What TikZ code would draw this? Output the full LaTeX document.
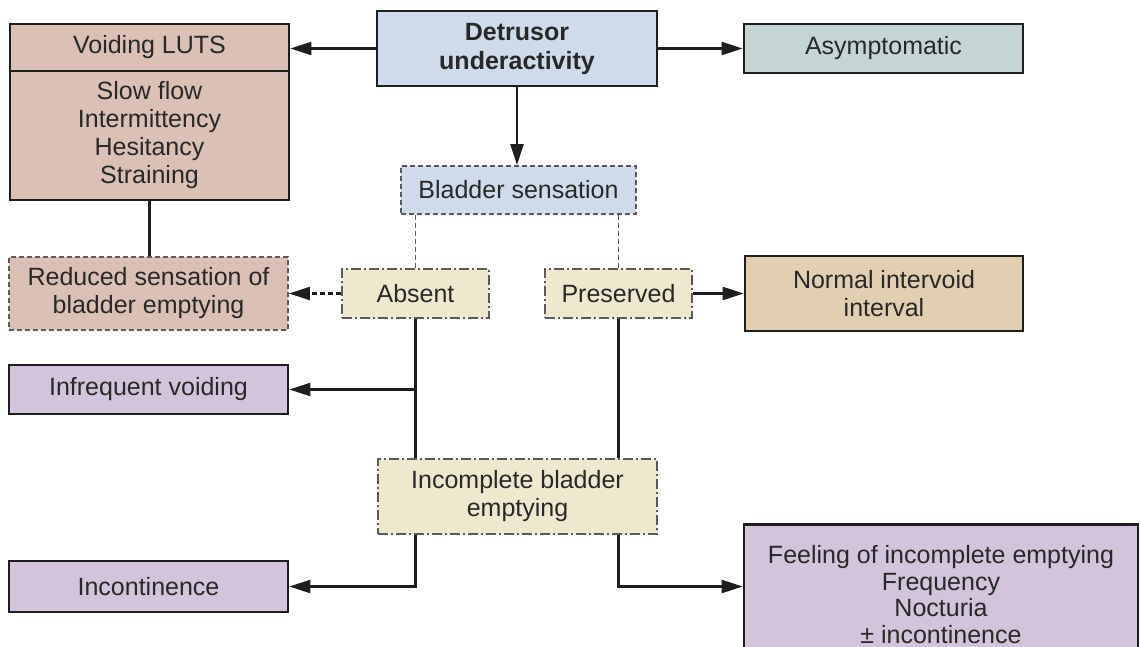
\documentclass[tikz,border=0pt]{standalone}
\usepackage{fontspec}
\setmainfont{Liberation Sans}
\usetikzlibrary{arrows.meta}
\definecolor{pinkf}{RGB}{219,192,182}
\definecolor{bluef}{RGB}{207,219,235}
\definecolor{tealf}{RGB}{197,213,213}
\definecolor{creamf}{RGB}{238,232,206}
\definecolor{tanf}{RGB}{226,207,177}
\definecolor{lavf}{RGB}{209,196,219}
\definecolor{edge}{RGB}{30,30,30}
\definecolor{dgray}{RGB}{90,90,90}
\definecolor{txt}{RGB}{40,40,40}
\begin{document}
\begin{tikzpicture}[x=1pt,y=-1pt,
  box/.style={draw=edge, line width=2.8pt, text=txt, align=center, inner sep=0pt, font=\fontsize{25}{28}\selectfont},
  dbox/.style={box, draw=dgray, line width=1.9pt, dash pattern=on 5pt off 3pt},
  ddbox/.style={box, draw=dgray, line width=1.9pt, dash pattern=on 10pt off 3pt on 2pt off 3pt},
  arr/.style={line width=2.5pt, draw=edge, -{Triangle[length=21pt,width=13pt]}},
  darr/.style={arr, dash pattern=on 5pt off 3pt},
  link/.style={line width=2.5pt, draw=edge},
  dline/.style={line width=1.9pt, draw=dgray, dash pattern=on 5pt off 3pt}
]
\clip (0,0) rectangle (1141,647);
\fill[white] (0,0) rectangle (1141,647);

\node[box, fill=pinkf, minimum width=279pt, minimum height=47pt] (lutsH) at (149.5,47.5) {Voiding LUTS};
\node[box, fill=pinkf, minimum width=279pt, minimum height=129pt] (lutsB) at (149.5,135.5) {Slow flow\\Intermittency\\Hesitancy\\Straining};
\node[box, fill=bluef, minimum width=280pt, minimum height=75pt, font={\fontsize{25}{29}\selectfont\bfseries}] (det) at (517,48.5) {Detrusor\\underactivity};
\node[box, fill=tealf, minimum width=279pt, minimum height=49pt] (asym) at (883.5,48.5) {Asymptomatic};
\node[dbox, fill=bluef, minimum width=235pt, minimum height=48pt] (bs) at (518.5,190) {Bladder sensation};
\node[ddbox, fill=creamf, minimum width=147pt, minimum height=49pt] (abs) at (415.5,293.5) {Absent};
\node[ddbox, fill=creamf, minimum width=147pt, minimum height=49pt] (pres) at (618.5,293.5) {Preserved};
\node[dbox, fill=pinkf, minimum width=279pt, minimum height=73pt] (red) at (148.5,293.5) {Reduced sensation of\\bladder emptying};
\node[box, fill=tanf, minimum width=278pt, minimum height=75pt] (norm) at (884,293.5) {Normal intervoid\\interval};
\node[box, fill=lavf, minimum width=279pt, minimum height=49pt] (infr) at (148.5,389.5) {Infrequent voiding};
\node[ddbox, fill=creamf, minimum width=279pt, minimum height=75pt] (inc) at (517.5,496.5) {Incomplete bladder\\emptying};
\node[box, fill=lavf, minimum width=279pt, minimum height=51pt] (incont) at (148.5,586.5) {Incontinence};
\node[box, fill=lavf, minimum width=394pt, minimum height=140pt, anchor=north, font=\fontsize{25}{26.5}\selectfont] (feel) at (941,523) {Feeling of incomplete emptying\\Frequency\\Nocturia\\± incontinence};

\draw[arr] (det.west) -- (det.west -| lutsH.east);
\draw[arr] (det.east) -- (det.east -| asym.west);
\draw[arr] (det.south) -- (det.south |- bs.north);
\draw[link] (lutsB.south) -- (lutsB.south |- red.north);
\draw[dline] (abs.north) -- (abs.north |- bs.south);
\draw[dline] (pres.north) -- (pres.north |- bs.south);
\draw[darr] (abs.west) -- (red.east);
\draw[arr] (pres.east) -- (norm.west);
\draw[link] (abs.south) -- (abs.south |- inc.north);
\draw[arr] (abs.south |- infr.east) -- (infr.east);
\draw[link] (pres.south) -- (pres.south |- inc.north);
\draw[arr] (inc.south -| abs.south) |- (incont.east);
\draw[arr] (inc.south -| pres.south) |- (feel.west |- incont.east);
\end{tikzpicture}
\end{document}
